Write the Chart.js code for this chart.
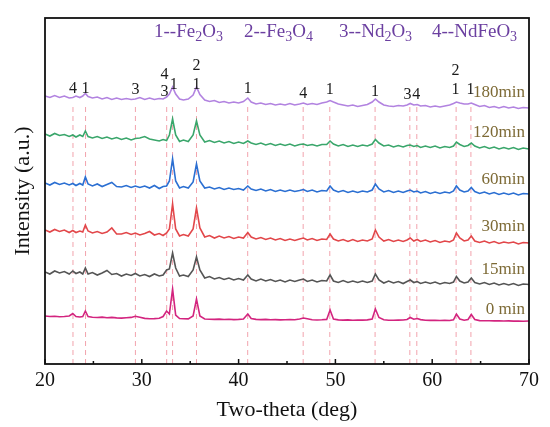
<!DOCTYPE html>
<html>
<head>
<meta charset="utf-8">
<title>XRD patterns</title>
<script src="https://cdn.jsdelivr.net/npm/chart.js@4.4.1/dist/chart.umd.min.js"></script>
<style>
  html, body { margin: 0; padding: 0; background: #fff; }
  #wrap { width: 550px; height: 427px; }
</style>
</head>
<body>
<div id="wrap"><canvas id="chart"></canvas></div>
<script>
// 2-theta grid (deg)
const twoTheta = [
  20.0, 20.5, 21.0, 21.5, 22.0, 22.5, 22.87, 23.2, 23.6, 23.9,
  24.17, 24.45, 24.9, 25.4, 25.9, 26.4, 26.9, 27.4, 27.9, 28.4,
  28.9, 29.33, 29.8, 30.3, 30.8, 31.3, 31.8, 32.2, 32.56, 32.85,
  33.18, 33.5, 33.9, 34.3, 34.8, 35.3, 35.65, 36.0, 36.5, 37.0,
  37.5, 38.0, 38.5, 39.0, 39.5, 40.0, 40.5, 40.95, 41.3, 41.8,
  42.3, 42.8, 43.3, 43.8, 44.3, 44.8, 45.3, 45.8, 46.3, 46.7,
  47.1, 47.6, 48.1, 48.6, 49.1, 49.45, 49.8, 50.3, 50.8, 51.3,
  51.8, 52.3, 52.8, 53.3, 53.8, 54.13, 54.5, 55.0, 55.5, 56.0,
  56.5, 57.0, 57.4, 57.73, 58.1, 58.45, 58.8, 59.3, 59.8, 60.3,
  60.8, 61.3, 61.8, 62.2, 62.5, 62.85, 63.3, 63.7, 64.04, 64.4,
  64.9, 65.4, 65.9, 66.4, 66.9, 67.4, 67.9, 68.4, 68.9, 69.4, 70.0
];

// intensities (a.u., curves already stacked as in the figure)
const min0 = [
  48, 47.5, 47.8, 47.3, 47.5, 48, 50.5, 47.5, 47, 47.5,
  53, 47.5, 46.8, 46.5, 46.9, 46.3, 46.6, 46.1, 45.9, 46.2,
  46.6, 47.8, 46.8, 45.6, 45.3, 45.4, 45.8, 47.5, 53, 50,
  75, 49, 45.5, 45.2, 45.1, 48, 65, 48, 45, 44.8,
  44.6, 44.9, 44.5, 44.7, 44.4, 44.6, 45, 50, 45.5, 44.6,
  44.4, 44.6, 44.2, 44.4, 44.1, 44.3, 44.5, 44.3, 45, 46,
  45.2, 44.3, 44, 44.2, 44.6, 54, 45, 44.1, 43.9, 44.1,
  43.8, 44, 43.9, 44.1, 45, 55, 46.5, 44.2, 43.8, 43.7,
  43.9, 44, 44.5, 46.5, 44.8, 45.5, 44.4, 43.8, 43.6, 43.7,
  43.5, 43.6, 43.5, 44.2, 50, 45, 43.8, 44.5, 49.5, 44.5,
  43.4, 43.2, 43.3, 43.1, 43.2, 43, 43.1, 42.9, 43, 42.8, 43
];
const min15 = [
  92, 90, 93, 91, 92.5, 90, 93, 90.5, 92, 90,
  96, 90, 91.5, 89, 91, 93.5, 89.5, 90.5, 88, 90,
  88.5, 90.5, 88, 89.5, 87.5, 90, 88, 89, 94, 95,
  111, 96, 88, 89, 87.5, 94, 107, 94, 86, 87.5,
  85, 86.5, 84.5, 86, 84, 85.5, 84, 89, 85, 83,
  85, 83, 84.5, 82.5, 84, 82, 84, 82.5, 84, 85,
  82.5, 84, 82, 83.5, 83, 89, 83, 81.5, 83.5, 81.5,
  83, 81.5, 83, 81.5, 83, 90, 84, 81, 83, 81,
  82.5, 80.5, 82.5, 84, 81.5, 82.5, 80.5, 82, 80.5, 82,
  80, 81.5, 80.5, 82, 87.5, 83, 81, 82, 86, 81.5,
  80, 81.5, 79.5, 81, 79, 80.5, 79, 80.5, 78.5, 80, 79.5
];
const min30 = [
  134, 132, 134.5, 132.5, 134, 131.5, 133.5, 131.5, 133, 132,
  139, 133, 131, 132.5, 130.5, 132, 136, 130, 130, 131.5,
  129.5, 131, 129, 130.5, 132.5, 129, 130.5, 128.5, 131, 135,
  160, 135, 128, 129.5, 128, 135, 156, 136, 127, 128.5,
  126, 128, 126, 127.5, 125.5, 127, 126, 131.5, 127, 125,
  126.5, 124.5, 126, 124, 125.5, 123.5, 125, 123.5, 125, 126,
  124, 125.5, 123.5, 125, 124.5, 130, 125, 123, 124.5, 122.5,
  124.5, 122.5, 124, 123, 125, 134, 127, 123, 124.5, 122.5,
  124, 122.5, 124, 126, 123, 124.5, 122.5, 124, 122, 123.5,
  121.5, 123, 122, 124, 131, 126, 123, 124, 128, 123,
  121.5, 123, 121, 122.5, 120.5, 122, 121, 122, 120, 121.5, 121
];
const min60 = [
  181, 179, 181.5, 179.5, 181, 179, 180.5, 178.5, 180.5, 179,
  187, 180, 178, 180, 177.5, 179.5, 181.5, 177.5, 177, 178.5,
  176.5, 178, 176.5, 178, 176, 178.5, 175.5, 177.5, 178, 183,
  205, 183, 176, 177.5, 176, 182, 200, 183, 176, 177,
  175, 176.5, 174.5, 176, 174.5, 175.5, 174, 178, 175, 173.5,
  175, 173, 174.5, 172.5, 174, 172.5, 174, 172.5, 173.5, 174.5,
  172.5, 174, 172, 173.5, 173, 178, 174, 172, 173.5, 171.5,
  173, 171.5, 173, 172, 174, 180, 175, 172, 173.5, 171.5,
  173, 171.5, 173, 174, 172, 173, 171, 172.5, 170.5, 172,
  170.5, 172, 171, 173, 178, 174, 172, 173, 176.5, 172.5,
  170.5, 172, 170, 171.5, 169.5, 171, 169.5, 171, 169, 170.5, 170
];
const min120 = [
  230, 228, 230.5, 228.5, 229.5, 227.5, 229, 227, 229, 227.5,
  233, 227.5, 226, 227.5, 225.5, 227, 225, 226.5, 224.5, 226,
  224, 225.5, 226, 227.5, 225, 224, 223, 224.5, 223.5, 229,
  245, 229, 222.5, 224, 222.5, 229, 243, 229, 222, 223.5,
  221.5, 223, 221, 222.5, 220.5, 222, 220.5, 223, 221, 219.5,
  221, 219, 220.5, 218.5, 220, 218.5, 220, 218, 219.5, 220,
  218.5, 219.5, 218, 219.5, 219.5, 223, 220, 218, 219.5, 217.5,
  219, 217.5, 219, 218, 220, 224.5, 221, 218, 219, 217,
  218.5, 217, 218.5, 219, 217.5, 218.5, 216.5, 218, 216.5, 218,
  216, 217.5, 216.5, 218, 222, 219.5, 217.5, 218.5, 221, 218,
  216, 217.5, 215.5, 217, 215, 216.5, 215, 216.5, 214.5, 216, 215
];
const min180 = [
  268, 266.5, 268.5, 266.5, 268, 266, 266.5, 268, 266.5, 268,
  270.5, 267.5, 266, 267, 265, 266.5, 264.5, 266, 264.5, 265.5,
  264.5, 265, 266.5, 264.5, 266, 264.5, 265.5, 265, 267, 270,
  277, 270, 265, 264, 265, 269, 277, 269.5, 264, 262.5,
  263.5, 261.5, 262.5, 261, 262, 261, 262.5, 266, 262, 260,
  261, 259.5, 260.5, 259, 260, 259, 260.5, 259, 260, 261,
  259.5, 260.5, 259.5, 261, 262, 263.5, 262, 260, 259, 258,
  259, 257.5, 258.5, 259.5, 262, 265, 262, 259, 258, 257.5,
  258.5, 258, 259, 260.5, 259, 259.5, 258, 258.5, 257, 258,
  257, 258, 259, 260.5, 262, 261, 260, 260, 261, 259.5,
  257.5, 258.5, 256.5, 257.5, 256, 257.5, 256, 257, 255.5, 256.5, 256
];

const seriesNames = ['0 min', '15min', '30min', '60min', '120min', '180min'];
const seriesData = [min0, min15, min30, min60, min120, min180];
const seriesColors = ['#d3247f', '#555555', '#e2474a', '#2b6fd2', '#3aa66b', '#b283e0'];
// where each curve name sits (intensity units)
const nameLevels = [54, 94, 137, 184, 231, 271];

// reference peak positions (dashed lines)
const peakLines = [22.89, 24.19, 29.34, 32.57, 33.18, 35.65, 40.94, 46.67, 49.42, 54.1, 57.69, 58.41, 62.47, 64.0];
const peakLineTop = 257;

// phase numbers above the 180 min pattern
const labelPos   = [22.89, 24.19, 29.34, 32.35, 32.35, 33.3, 35.65, 35.65, 40.94, 46.67, 49.42, 54.1, 57.45, 58.35, 62.4, 62.4, 63.95];
const labelText  = ['4', '1', '3', '3', '4', '1', '1', '2', '1', '4', '1', '1', '3', '4', '1', '2', '1'];
const labelLevel = [271, 271, 270, 268, 285, 275, 275, 294, 271, 266, 270, 268, 265, 265, 270, 289, 270];

// legend: "_" marks a subscript digit
const phases = ['1--Fe_2O_3', '2--Fe_3O_4', '3--Nd_2O_3', '4--NdFeO_3'];

const SERIF = '"Liberation Serif", "DejaVu Serif", serif';

const datasets = seriesData.map((vals, i) => ({
  label: seriesNames[i],
  data: twoTheta.map((x, j) => ({ x: x, y: vals[j] })),
  borderColor: seriesColors[i],
  borderWidth: 1.6,
  pointRadius: 0,
  tension: 0,
  order: 1
}));

const dashData = [];
peakLines.forEach(p => {
  dashData.push({ x: p, y: 0 }, { x: p, y: peakLineTop }, { x: p, y: null });
});
datasets.push({
  label: 'peaks',
  data: dashData,
  borderColor: '#f2a3ad',
  borderWidth: 1,
  borderDash: [5, 4],
  pointRadius: 0,
  spanGaps: false,
  order: 5
});

const decor = {
  id: 'decor',
  afterDatasetsDraw(chart) {
    const ctx = chart.ctx;
    const area = chart.chartArea;
    const xs = chart.scales.x;
    const ys = chart.scales.y;
    ctx.save();

    // phase numbers
    ctx.fillStyle = '#1a1a1a';
    ctx.font = '16px ' + SERIF;
    ctx.textAlign = 'center';
    ctx.textBaseline = 'alphabetic';
    labelPos.forEach((p, i) => {
      ctx.fillText(labelText[i], xs.getPixelForValue(p), ys.getPixelForValue(labelLevel[i]));
    });

    // curve names
    ctx.fillStyle = '#7d6a35';
    ctx.font = '17px ' + SERIF;
    ctx.textAlign = 'right';
    ctx.textBaseline = 'middle';
    seriesNames.forEach((n, i) => {
      ctx.fillText(n, area.right - 4, ys.getPixelForValue(nameLevels[i]));
    });

    // legend line
    ctx.fillStyle = '#6b3fa0';
    ctx.textAlign = 'left';
    ctx.textBaseline = 'alphabetic';
    const legX = [154, 244, 339, 432];
    const base = area.top + 19;
    phases.forEach((t, i) => {
      let x = legX[i];
      for (let k = 0; k < t.length; k++) {
        let ch = t[k], sub = false;
        if (ch === '_') { sub = true; k++; ch = t[k]; }
        ctx.font = (sub ? '14px ' : '19px ') + SERIF;
        ctx.fillText(ch, x, sub ? base + 4 : base);
        x += ctx.measureText(ch).width;
      }
    });

    // inward ticks on the bottom axis
    ctx.strokeStyle = '#111';
    ctx.lineWidth = 1.5;
    for (let v = 20; v <= 70; v += 5) {
      const px = xs.getPixelForValue(v);
      const len = v % 10 === 0 ? 5 : 3;
      ctx.beginPath();
      ctx.moveTo(px, area.bottom);
      ctx.lineTo(px, area.bottom - len);
      ctx.stroke();
    }

    // frame
    ctx.lineWidth = 1.8;
    ctx.strokeRect(area.left, area.top, area.right - area.left, area.bottom - area.top);
    ctx.restore();
  }
};

new Chart(document.getElementById('chart'), {
  type: 'line',
  data: { datasets: datasets },
  options: {
    responsive: true,
    maintainAspectRatio: false,
    animation: false,
    parsing: true,
    layout: { padding: { top: 18, right: 21, left: 0, bottom: 0 } },
    plugins: { legend: { display: false }, tooltip: { enabled: false } },
    scales: {
      x: {
        type: 'linear',
        min: 20,
        max: 70,
        afterFit: s => { s.height = 63; },
        grid: { display: false, drawTicks: false },
        border: { display: false },
        ticks: {
          stepSize: 10,
          padding: 5,
          color: '#111',
          font: { family: SERIF, size: 20 }
        },
        title: {
          display: true,
          text: 'Two-theta (deg)',
          color: '#111',
          font: { family: SERIF, size: 22 },
          padding: { top: 0, bottom: 4 }
        }
      },
      y: {
        min: 0,
        max: 346,
        afterFit: s => { s.width = 45; },
        grid: { display: false, drawTicks: false },
        border: { display: false },
        ticks: { display: false },
        title: {
          display: true,
          text: 'Intensity (a.u.)',
          color: '#111',
          font: { family: SERIF, size: 22 },
          padding: { top: 10, bottom: 0 }
        }
      }
    }
  },
  plugins: [decor]
});
</script>
</body>
</html>
